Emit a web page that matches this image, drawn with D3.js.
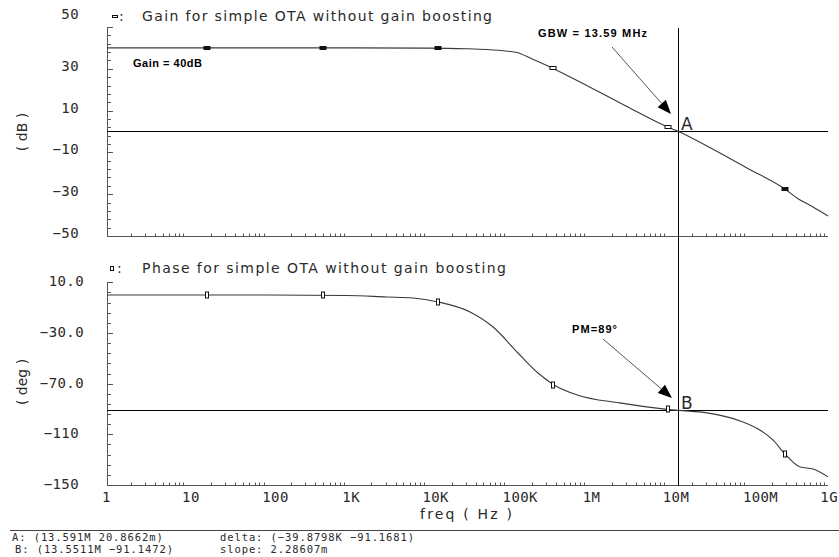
<!DOCTYPE html>
<html>
<head>
<meta charset="utf-8">
<script src="https://d3js.org/d3.v7.min.js"></script>
<style>
  body { margin: 0; background: #fff; }
  svg text { font-family: "DejaVu Sans", sans-serif; fill: #2a2a2a; }
  .tick { font-family: "DejaVu Sans Mono", monospace; font-size: 14px; letter-spacing: 0.4px; }
  .title { font-size: 14px; }
  .note { font-family: "Liberation Sans", Arial, sans-serif; font-weight: 700; font-size: 11px; fill: #000; }
  .foot { font-family: "DejaVu Sans Mono", monospace; font-size: 10.5px; letter-spacing: 0.9px; }
</style>
</head>
<body>
<div id="chart"></div>
<script>
// ---- data ----
var gainFreq = [1, 10, 100, 1e3, 1e4, 3e4, 5.5e4, 1e5, 1.31e5, 2e5, 3.7e5, 1e6, 3e6, 1e7, 1.36e7, 3e7, 1e8, 2.9e8, 4.1e8, 6.5e8, 1e9];
var gainDb   = [40, 40, 40, 40, 39.9, 39.6, 39.2, 38.4, 37.8, 34.8, 30.2, 21.8, 12.2, 2.1, 0, -6.7, -17.7, -27.5, -31.8, -36.1, -40.4];

var phaseFreq = [1, 10, 100, 1e3, 3.1e3, 6.6e3, 1.36e4, 3.4e4, 6.6e4, 1.35e5, 2.4e5, 3.8e5, 7.4e5, 2.5e6, 8.7e6, 1.36e7, 3.1e7, 8e7, 1.41e8, 2.05e8, 2.9e8, 4.5e8, 6.5e8, 1e9];
var phaseDeg  = [0, 0, 0, -0.4, -1.6, -2.4, -5.5, -13.4, -25.3, -45.8, -61.6, -71, -78.9, -85.2, -89.9, -91.1, -93.1, -99.4, -106.6, -114.4, -125.5, -135.8, -137.3, -143.6];

var markerFreq   = [17.7, 498, 1.36e4, 3.7e5, 1.01e7, 2.91e8];
var gainMarkers  = [40, 40, 39.9, 30.2, 2.0, -27.6];
var phaseMarkers = [0, 0, -5.5, -71, -90.2, -125.5];

var xTickValues = [1, 10, 100, 1e3, 1e4, 1e5, 1e6, 1e7, 1e8, 1e9];
var xTickLabels = ["1", "10", "100", "1K", "10K", "100K", "1M", "10M", "100M", "1G"];
var gainTickValues = [50, 30, 10, -10, -30, -50];
var gainTickLabels = ["50", "30", "10", "\u221210", "\u221230", "\u221250"];
var phaseTickValues = [10, -30, -70, -110, -150];
var phaseTickLabels = ["10.0", "\u221230.0", "\u221270.0", "\u2212110", "\u2212150"];

var cursorA = { f: 13.591e6, v: 0.0208662 };
var cursorB = { f: 13.5511e6, v: -91.1472 };
var footLeft  = ["A: (13.591M 20.8662m)", "B: (13.5511M \u221291.1472)"];
var footRight = ["delta: (\u221239.8798K \u221291.1681)", "slope: 2.28607m"];

// ---- layout ----
var width = 839, height = 557;
var svg = d3.select("#chart").append("svg").attr("width", width).attr("height", height);

var x = d3.scaleLog().domain([1, 1e9]).range([107, 828]);
var gy = d3.scaleLinear().domain([-50, 50]).range([236, 27]);
var py = d3.scaleLinear().domain([-150, 10]).range([485, 282.3]);

function panel(y, step, majorEvery, lo, hi) {
  // left axis line with ticks pointing inward
  svg.append("line").attr("x1", 107.5).attr("x2", 107.5)
    .attr("y1", y(hi)).attr("y2", y(lo)).attr("stroke", "#555");
  d3.range(lo, hi + 0.001, step).forEach(function(v) {
    var major = Math.round((v - lo) / step) % majorEvery === 0;
    svg.append("line").attr("x1", 107).attr("x2", 107 + (major ? 6 : 4))
      .attr("y1", Math.round(y(v)) + 0.5).attr("y2", Math.round(y(v)) + 0.5).attr("stroke", "#555");
  });
  // bottom axis line with log ticks pointing up
  var yb = Math.round(y(lo)) + 0.5;
  svg.append("line").attr("x1", 107).attr("x2", 828).attr("y1", yb).attr("y2", yb).attr("stroke", "#555");
  x.ticks().forEach(function(t) {
    var m = Math.round(t / Math.pow(10, Math.floor(Math.log10(t) + 1e-9)));
    if (m === 1) return;
    var xx = Math.round(x(t)) + 0.5;
    svg.append("line").attr("x1", xx).attr("x2", xx).attr("y1", yb).attr("y2", yb - 3).attr("stroke", "#555");
  });
}
panel(gy, 4, 5, -50, 50);
panel(py, 8, 5, -150, 10);

// y tick labels
svg.selectAll(".gtick").data(gainTickValues).enter().append("text")
  .attr("class", "tick").attr("text-anchor", "end").attr("x", 79)
  .attr("y", function(d, i) { return i === 0 ? 19 : gy(d) + 2; })
  .text(function(d, i) { return gainTickLabels[i]; });
svg.selectAll(".ptick").data(phaseTickValues).enter().append("text")
  .attr("class", "tick").attr("text-anchor", "end")
  .attr("x", function(d, i) { return phaseTickLabels[i].indexOf(".") >= 0 ? 84 : 79; })
  .attr("y", function(d) { return py(d) + 4; })
  .text(function(d, i) { return phaseTickLabels[i]; });

// x tick labels (last one kept inside the frame)
svg.selectAll(".xtick").data(xTickValues).enter().append("text")
  .attr("class", "tick")
  .attr("text-anchor", function(d, i) { return i === xTickValues.length - 1 ? "end" : "start"; })
  .attr("x", function(d, i) { return i === xTickValues.length - 1 ? 838 : x(d) - 5; })
  .attr("y", 502)
  .text(function(d, i) { return xTickLabels[i]; });
svg.append("text").attr("class", "title").attr("x", 420).attr("y", 519)
  .attr("textLength", 92).text("freq ( Hz )");

// axis titles
svg.append("text").attr("class", "title").attr("text-anchor", "middle")
  .attr("transform", "translate(27,132) rotate(-90)").text("( dB )");
svg.append("text").attr("class", "title").attr("text-anchor", "middle")
  .attr("transform", "translate(27,382) rotate(-90)").text("( deg )");

// panel titles with legend markers
svg.append("rect").attr("x", 112.5).attr("y", 15.5).attr("width", 5).attr("height", 2)
  .attr("fill", "#fff").attr("stroke", "#111").attr("stroke-width", 1);
svg.append("text").attr("class", "title").attr("x", 119).attr("y", 21).text(":");
svg.append("text").attr("class", "title").attr("x", 142).attr("y", 21)
  .attr("textLength", 350).text("Gain for simple OTA without gain boosting");
svg.append("rect").attr("x", 110.5).attr("y", 266.5).attr("width", 3).attr("height", 4)
  .attr("fill", "#fff").attr("stroke", "#111").attr("stroke-width", 1);
svg.append("text").attr("class", "title").attr("x", 117).attr("y", 273).text(":");
svg.append("text").attr("class", "title").attr("x", 142).attr("y", 273)
  .attr("textLength", 364).text("Phase for simple OTA without gain boosting");

// cursor lines
var cx = Math.round(x(cursorA.f)) + 0.5;
svg.append("line").attr("x1", cx).attr("x2", cx).attr("y1", 28).attr("y2", 486).attr("stroke", "#000");
svg.append("line").attr("x1", 107).attr("x2", 828)
  .attr("y1", Math.round(gy(cursorA.v)) + 0.5).attr("y2", Math.round(gy(cursorA.v)) + 0.5).attr("stroke", "#000");
svg.append("line").attr("x1", 107).attr("x2", 828)
  .attr("y1", Math.round(py(cursorB.v)) + 0.5).attr("y2", Math.round(py(cursorB.v)) + 0.5).attr("stroke", "#000");
svg.append("text").attr("class", "title").style("font-size", "17px").attr("x", 681).attr("y", gy(cursorA.v) - 1).text("A");
svg.append("text").attr("class", "title").style("font-size", "17px").attr("x", 681).attr("y", py(cursorB.v) - 1).text("B");

// curves
var gainLine = d3.line().curve(d3.curveMonotoneX)
  .x(function(d) { return x(d); }).y(function(d, i) { return gy(gainDb[i]); });
svg.append("path").attr("d", gainLine(gainFreq)).attr("fill", "none")
  .attr("stroke", "#3a3a3a").attr("stroke-width", 1.1);
var phaseLine = d3.line().curve(d3.curveMonotoneX)
  .x(function(d) { return x(d); }).y(function(d, i) { return py(phaseDeg[i]); });
svg.append("path").attr("d", phaseLine(phaseFreq)).attr("fill", "none")
  .attr("stroke", "#3a3a3a").attr("stroke-width", 1.1);

// markers
svg.selectAll(".gm").data(markerFreq).enter().append("rect")
  .attr("x", function(d) { return Math.round(x(d)) - 3; })
  .attr("y", function(d, i) { return Math.round(gy(gainMarkers[i])) - 1.5; })
  .attr("width", 6).attr("height", 3)
  .attr("fill", function(d, i) { return i < 3 || i === 5 ? "#111" : "#fff"; })
  .attr("stroke", "#111").attr("stroke-width", 1);
svg.selectAll(".pm").data(markerFreq).enter().append("rect")
  .attr("x", function(d) { return Math.round(x(d)) - 1.5; })
  .attr("y", function(d, i) { return Math.round(py(phaseMarkers[i])) - 3; })
  .attr("width", 3).attr("height", 6)
  .attr("fill", "#fff").attr("stroke", "#111").attr("stroke-width", 1);

// annotations
svg.append("text").attr("class", "note").attr("x", 133).attr("y", 67).attr("textLength", 69).text("Gain = 40dB");
svg.append("text").attr("class", "note").attr("x", 538).attr("y", 37).attr("textLength", 109).text("GBW = 13.59 MHz");
svg.append("text").attr("class", "note").attr("x", 572).attr("y", 333).attr("textLength", 45).text("PM=89\u00b0");

function arrow(x1, y1, x2, y2) {
  var a = Math.atan2(y2 - y1, x2 - x1), L = 14, W = 5.5;
  var bx = x2 - L * Math.cos(a), by = y2 - L * Math.sin(a);
  svg.append("line").attr("x1", x1).attr("y1", y1).attr("x2", bx).attr("y2", by)
    .attr("stroke", "#555").attr("stroke-width", 1);
  var p = [[x2, y2],
           [bx + W * Math.sin(a), by - W * Math.cos(a)],
           [bx - W * Math.sin(a), by + W * Math.cos(a)]];
  svg.append("path").attr("d", "M" + p.join("L") + "Z").attr("fill", "#000");
}
arrow(612, 47, 671, 114);
arrow(603, 339, 672, 398);

// footer
svg.append("line").attr("x1", 10).attr("x2", 839).attr("y1", 530.5).attr("y2", 530.5).attr("stroke", "#444");
svg.selectAll(".fl").data(footLeft).enter().append("text").attr("class", "foot")
  .attr("x", function(d, i) { return i === 0 ? 12 : 15; })
  .attr("y", function(d, i) { return 540.5 + i * 12.5; }).text(function(d) { return d; });
svg.selectAll(".fr").data(footRight).enter().append("text").attr("class", "foot")
  .attr("x", 220).attr("y", function(d, i) { return 540.5 + i * 12.5; }).text(function(d) { return d; });
</script>
</body>
</html>
